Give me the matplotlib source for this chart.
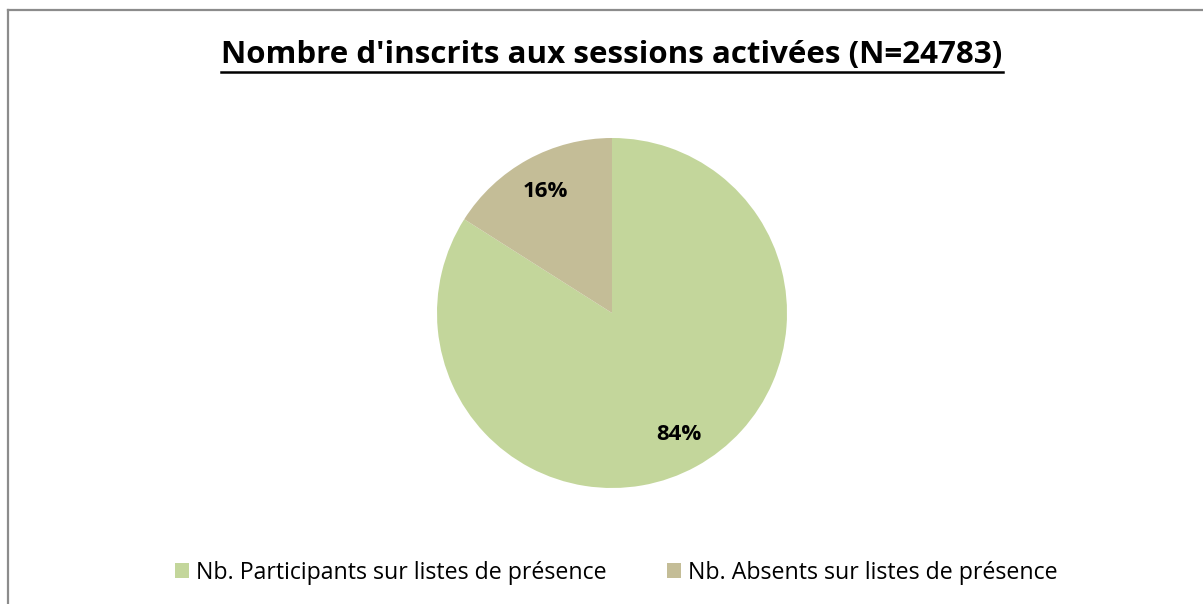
import matplotlib
matplotlib.use("Agg")
import matplotlib.pyplot as plt
from matplotlib.lines import Line2D
from matplotlib.patches import Patch

title = "Nombre d'inscrits aux sessions activées (N=24783)"
categories = ["Nb. Participants sur listes de présence", "Nb. Absents sur listes de présence"]
values = [84, 16]
colors = ["#C3D69B", "#C4BD97"]

W, H = 1203, 604
FONT = "Open Sans"
fig = plt.figure(figsize=(W / 100, H / 100), dpi=100)
fig.patch.set_facecolor("white")

# border (top and left visible)
fig.add_artist(Line2D([8 / W, 1.0], [1 - 10 / H, 1 - 10 / H], color="#8c8c8c", lw=1.6, transform=fig.transFigure))
fig.add_artist(Line2D([8 / W, 8 / W], [1 - 10 / H, 0], color="#8c8c8c", lw=1.6, transform=fig.transFigure))

cx, cy, r = 612, 313, 175
ax = fig.add_axes([(cx - r) / W, 1 - (cy + r) / H, 2 * r / W, 2 * r / H])
wedges, texts, autotexts = ax.pie(values, colors=colors, startangle=90, counterclock=False,
                                  autopct="%d%%", pctdistance=0.79, radius=1,
                                  textprops=dict(family=FONT, fontsize=16, fontweight="bold", color="black"))
ax.set_xlim(-1, 1)
ax.set_ylim(-1, 1)
ax.set_aspect("equal")
ax.axis("off")

t = fig.text(612 / W, 1 - 55 / H, title, ha="center", va="center", family=FONT,
             fontsize=22.5, fontweight="bold", color="black")
fig.canvas.draw()
bb = t.get_window_extent(renderer=fig.canvas.get_renderer())
uy = 1 - 72 / H
fig.add_artist(Line2D([bb.x0 / W, bb.x1 / W], [uy, uy], color="black", lw=1.8, transform=fig.transFigure))

handles = [Patch(facecolor=c, edgecolor="none") for c in colors]
leg = fig.legend(handles, categories, loc="center", bbox_to_anchor=(616 / W, 1 - 573 / H), ncol=2,
                 frameon=False, prop=dict(family=FONT, size=16.7), handlelength=0.6, handleheight=0.6,
                 handletextpad=0.3, columnspacing=2.6, borderpad=0, borderaxespad=0)

fig.savefig("out.png", dpi=100, facecolor="white")
